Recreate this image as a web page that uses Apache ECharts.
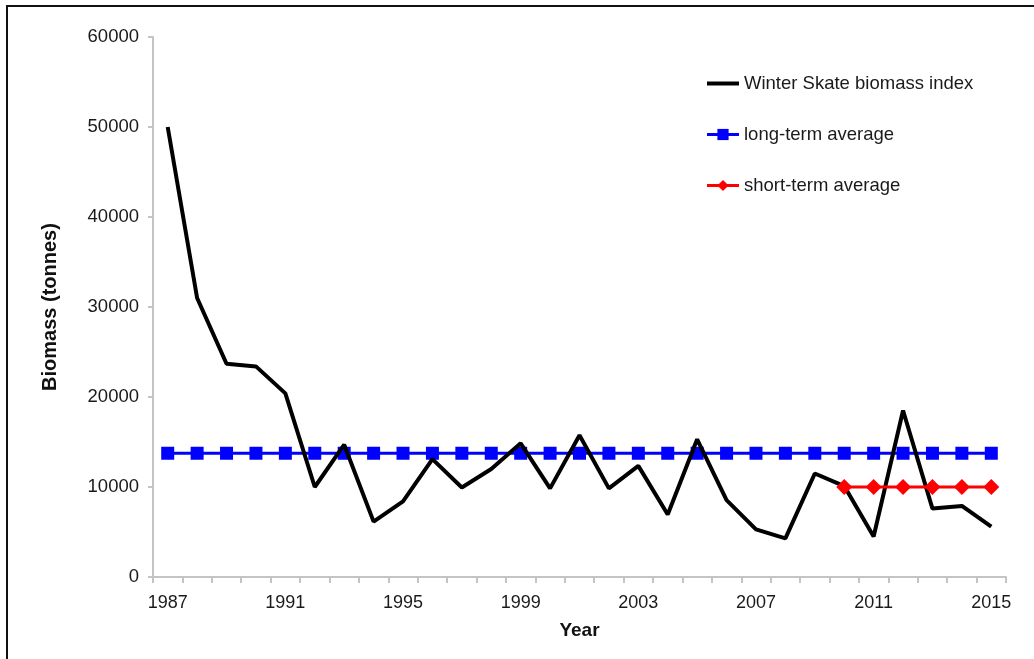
<!DOCTYPE html>
<html>
<head>
<meta charset="utf-8">
<title>Winter Skate biomass index</title>
<script src="https://cdn.jsdelivr.net/npm/echarts@6/dist/echarts.min.js"></script>
<style>
  html, body { margin: 0; padding: 0; background: #fff; overflow: hidden; }
  #wrap { position: relative; width: 1034px; height: 659px; overflow: hidden; }
  #frame { position: absolute; left: 6px; top: 5px; width: 1100px; height: 700px;
           border-left: 2px solid #111; border-top: 2px solid #111; }
  #chart { position: absolute; left: 0; top: 0; width: 1034px; height: 659px; }
</style>
</head>
<body>
<div id="wrap">
  <div id="frame"></div>
  <div id="chart"></div>
</div>
<script>
  // years on the x axis
  const years = [
    "1987", "1988", "1989", "1990", "1991", "1992", "1993", "1994", "1995", "1996",
    "1997", "1998", "1999", "2000", "2001", "2002", "2003", "2004", "2005", "2006",
    "2007", "2008", "2009", "2010", "2011", "2012", "2013", "2014", "2015"
  ];

  // survey biomass index (tonnes)
  const biomass = [
    50000, 31000, 23700, 23400, 20400, 10000, 14700, 6150, 8400, 13100,
    9950, 12000, 14850, 9850, 15750, 9850, 12350, 6950, 15300, 8550,
    5300, 4300, 11500, 10100, 4500, 18500, 7600, 7900, 5600
  ];

  const longTermAvg = [
    13750, 13750, 13750, 13750, 13750, 13750, 13750, 13750, 13750, 13750,
    13750, 13750, 13750, 13750, 13750, 13750, 13750, 13750, 13750, 13750,
    13750, 13750, 13750, 13750, 13750, 13750, 13750, 13750, 13750
  ];

  const shortTermAvg = [
    null, null, null, null, null, null, null, null, null, null,
    null, null, null, null, null, null, null, null, null, null,
    null, null, null, 10000, 10000, 10000, 10000, 10000, 10000
  ];

  const seriesNames = ["Winter Skate biomass index", "long-term average", "short-term average"];

  const chart = echarts.init(document.getElementById("chart"));
  const font = "'Liberation Sans', Arial, sans-serif";
  const axisGray = "#c4c4c4";
  const labelColor = "#1a1a1a";

  chart.setOption({
    animation: false,
    textStyle: { fontFamily: font },
    grid: { left: 153, right: 28, top: 37, bottom: 82, containLabel: false },
    legend: {
      orient: "vertical",
      left: 705,
      top: 74,
      padding: 0,
      itemGap: 32,
      itemWidth: 32,
      itemHeight: 14,
      textStyle: { fontSize: 18.5, color: labelColor, fontFamily: font },
      data: [
        // plain thick line icon for the index, no marker
        { name: seriesNames[0], itemStyle: { opacity: 0 }, lineStyle: { width: 4 } },
        { name: seriesNames[1], lineStyle: { width: 3 } },
        { name: seriesNames[2], lineStyle: { width: 3 } }
      ]
    },
    xAxis: {
      type: "category",
      data: years,
      boundaryGap: true,
      name: "Year",
      nameLocation: "middle",
      nameGap: 44,
      nameTextStyle: { fontSize: 19, fontWeight: "bold", color: "#111", fontFamily: font },
      axisLine: { lineStyle: { color: axisGray, width: 2 } },
      axisTick: { show: true, interval: 0, length: 6, lineStyle: { color: axisGray, width: 2 } },
      axisLabel: { interval: 3, margin: 17, fontSize: 18, color: labelColor, fontFamily: font },
      splitLine: { show: false }
    },
    yAxis: {
      type: "value",
      min: 0,
      max: 60000,
      interval: 10000,
      name: "Biomass (tonnes)",
      nameLocation: "middle",
      nameGap: 93,
      nameTextStyle: { fontSize: 20, fontWeight: "bold", color: "#111", fontFamily: font },
      axisLine: { show: true, lineStyle: { color: axisGray, width: 2 } },
      axisTick: { show: true, length: 5, lineStyle: { color: axisGray, width: 2 } },
      axisLabel: { margin: 14, fontSize: 18.5, color: labelColor, fontFamily: font, formatter: (v) => String(v) },
      splitLine: { show: false }
    },
    series: [
      {
        name: seriesNames[0],
        type: "line",
        data: biomass,
        symbol: "none",
        itemStyle: { color: "#000" },
        lineStyle: { color: "#000", width: 4 },
        z: 3
      },
      {
        name: seriesNames[1],
        type: "line",
        data: longTermAvg,
        symbol: "rect",
        symbolSize: 13,
        itemStyle: { color: "#0000ff" },
        lineStyle: { color: "#0000ff", width: 3 },
        z: 2
      },
      {
        name: seriesNames[2],
        type: "line",
        data: shortTermAvg,
        symbol: "diamond",
        symbolSize: 16,
        itemStyle: { color: "#ff0000" },
        lineStyle: { color: "#ff0000", width: 3 },
        z: 4
      }
    ]
  });

  window.addEventListener("resize", () => chart.resize());
</script>
</body>
</html>
